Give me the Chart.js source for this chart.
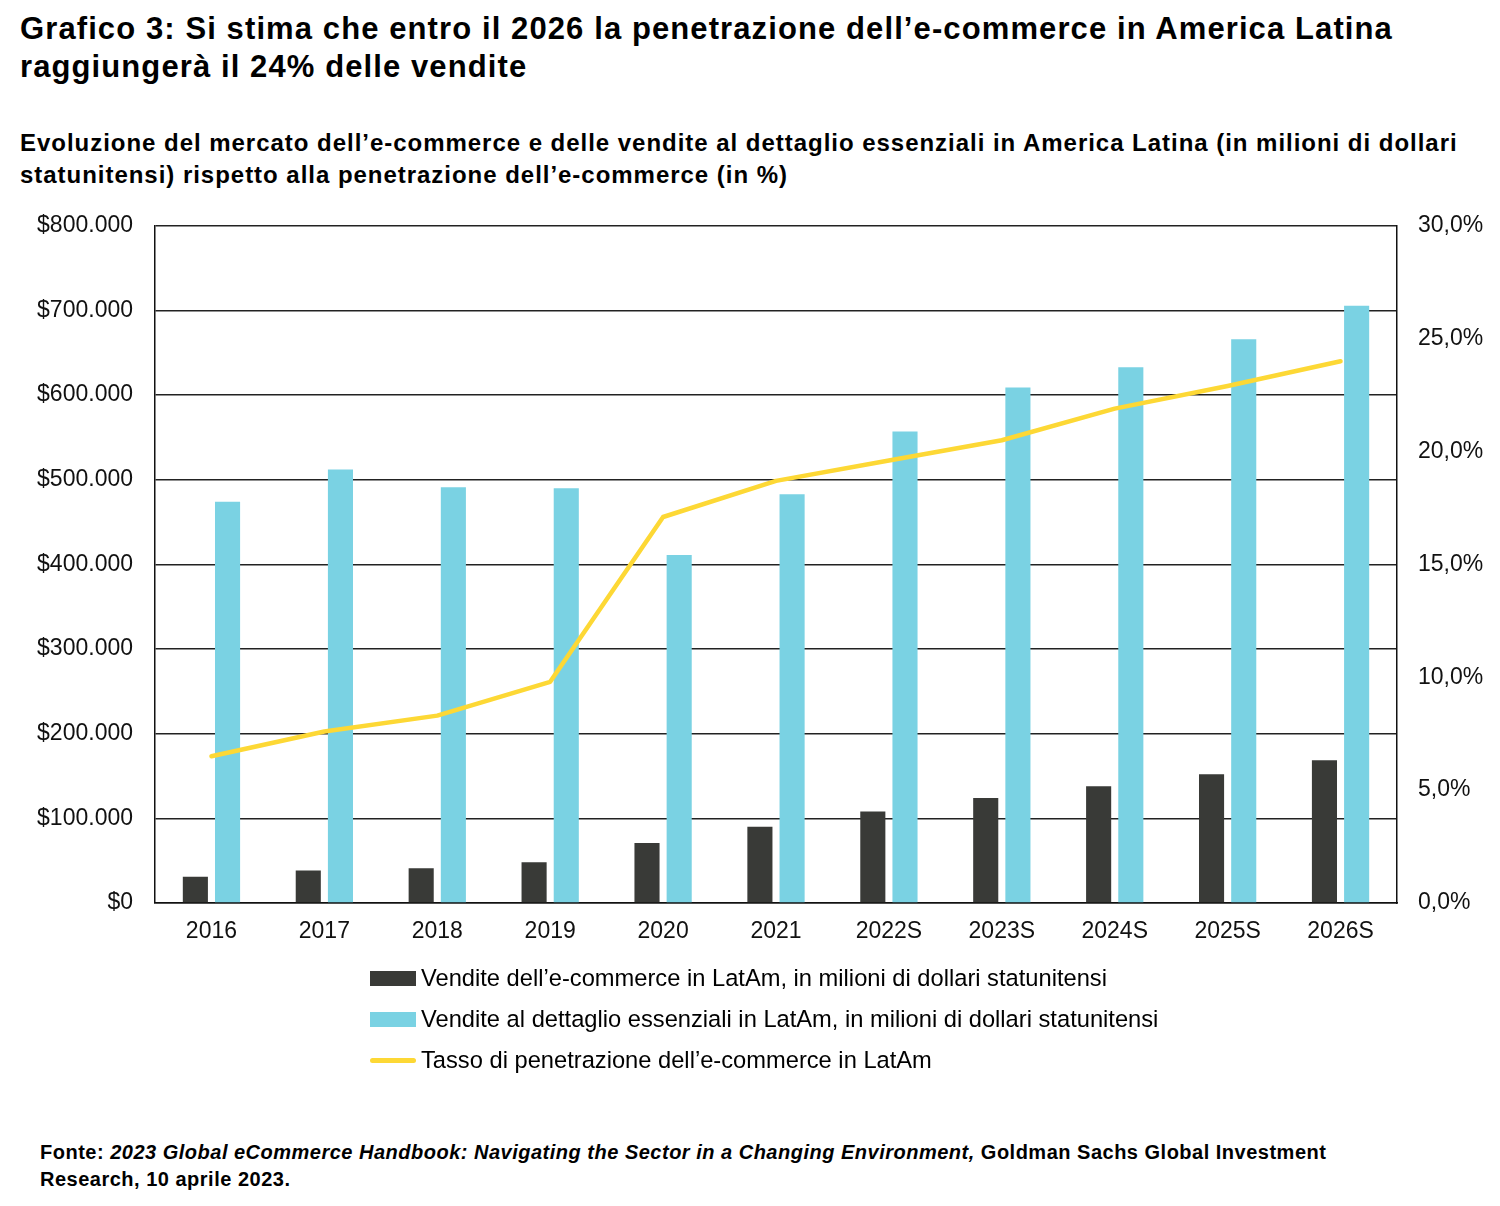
<!DOCTYPE html>
<html><head><meta charset="utf-8">
<script src="https://cdn.jsdelivr.net/npm/chart.js@4.4.1/dist/chart.umd.min.js"></script>
<style>
html,body{margin:0;padding:0;background:#fff;}
body{width:1500px;height:1206px;position:relative;overflow:hidden;font-family:"Liberation Sans",Arial,sans-serif;color:#000;}
#title{position:absolute;left:20px;top:10px;width:1480px;font-weight:700;font-size:31px;line-height:38px;letter-spacing:1.1px;white-space:nowrap;}
#subtitle{position:absolute;left:20px;top:127px;width:1480px;font-weight:700;font-size:24px;line-height:32px;letter-spacing:0.97px;white-space:nowrap;}
#wrap{position:absolute;left:0;top:190px;width:1500px;height:770px;}
#legend{position:absolute;left:370px;top:958px;font-family:"Liberation Sans",Arial,sans-serif;font-size:23.7px;}
.li{height:41px;display:flex;align-items:center;white-space:nowrap;}
.sw{width:46px;margin-right:5px;}
#foot{position:absolute;left:40px;top:1139px;font-weight:700;font-size:20px;line-height:27px;width:1460px;letter-spacing:0.5px;white-space:nowrap;}
</style></head><body>
<div id="title">Grafico 3: Si stima che entro il 2026 la penetrazione dell’e-commerce in America Latina<br>raggiungerà il 24% delle vendite</div>
<div id="subtitle">Evoluzione del mercato dell’e-commerce e delle vendite al dettaglio essenziali in America Latina (in milioni di dollari<br>statunitensi) rispetto alla penetrazione dell’e-commerce (in %)</div>
<div id="wrap"><canvas id="c"></canvas></div>
<div id="legend"></div>
<div id="foot">Fonte: <i>2023 Global eCommerce Handbook: Navigating the Sector in a Changing Environment,</i> Goldman Sachs Global Investment<br>Research, 10 aprile 2023.</div>
<script>
const categories = ["2016","2017","2018","2019","2020","2021","2022S","2023S","2024S","2025S","2026S"];
const ecommerceSales = [31000, 38500, 41000, 48000, 71000, 90000, 108000, 124000, 138000, 152000, 168500];
const retailSales = [474000, 512000, 491000, 490000, 411000, 483000, 557000, 609000, 633000, 666000, 705500];
const penetrationRate = [6.5, 7.6, 8.3, 9.8, 17.1, 18.7, 19.6, 20.5, 21.9, 22.9, 24.0];
const seriesNames = [
  "Vendite dell’e-commerce in LatAm, in milioni di dollari statunitensi",
  "Vendite al dettaglio essenziali in LatAm, in milioni di dollari statunitensi",
  "Tasso di penetrazione dell’e-commerce in LatAm"
];
const colors = ["#393a37", "#7ad2e3", "#fdd835"];

function fmtMoney(v){
  return "$" + Math.round(v).toString().replace(/\B(?=(\d{3})+(?!\d))/g, ".");
}
const tickFont = {family:"'Liberation Sans', Arial, sans-serif", size:23};

const chart = new Chart(document.getElementById("c"), {
  data: {
    labels: categories,
    datasets: [
      {type:"line", label:seriesNames[2], data:penetrationRate, yAxisID:"y2", borderColor:colors[2], borderWidth:4.5, pointRadius:0, borderCapStyle:"round", borderJoinStyle:"round", tension:0, order:0},
      {type:"bar", label:seriesNames[0], data:ecommerceSales, yAxisID:"y", backgroundColor:colors[0], categoryPercentage:0.57, barPercentage:0.78, order:1},
      {type:"bar", label:seriesNames[1], data:retailSales, yAxisID:"y", backgroundColor:colors[1], categoryPercentage:0.57, barPercentage:0.78, order:2}
    ]
  },
  options: {
    responsive:true, maintainAspectRatio:false, animation:false,
    layout:{padding:{top:13, left:0, right:0, bottom:0}},
    plugins:{legend:{display:false}, tooltip:{enabled:false}},
    scales:{
      x:{
        grid:{display:false, drawTicks:false},
        border:{display:true, color:"#111", width:1.5},
        ticks:{font:tickFont, color:"#111", padding:15, maxRotation:0},
        afterFit(s){ s.height = 57; }
      },
      y:{
        position:"left", min:0, max:800000,
        ticks:{stepSize:100000, font:tickFont, color:"#111", padding:22, callback:v=>fmtMoney(v)},
        grid:{color:"#222", lineWidth:1.5, drawTicks:false},
        border:{display:true, color:"#111", width:1.5},
        afterFit(s){ s.width = 155; }
      },
      y2:{
        position:"right", min:0, max:30,
        ticks:{stepSize:5, font:tickFont, color:"#111", padding:21, callback:v=>v.toFixed(1).replace(".", ",")+"%"},
        grid:{display:false, drawTicks:false},
        border:{display:true, color:"#111", width:1.5},
        afterFit(s){ s.width = 103; }
      }
    }
  }
});

const lg = document.getElementById("legend");
[1,2,0].forEach(i=>{
  const ds = chart.data.datasets[i];
  const d = document.createElement("div"); d.className="li";
  const sw = document.createElement("span"); sw.className="sw";
  if(ds.type==="line"){ sw.style.height="5px"; sw.style.borderRadius="3px"; sw.style.background=ds.borderColor; }
  else { sw.style.height="15px"; sw.style.background=ds.backgroundColor; }
  const t = document.createElement("span"); t.textContent = ds.label;
  d.appendChild(sw); d.appendChild(t); lg.appendChild(d);
});
</script>
</body></html>
